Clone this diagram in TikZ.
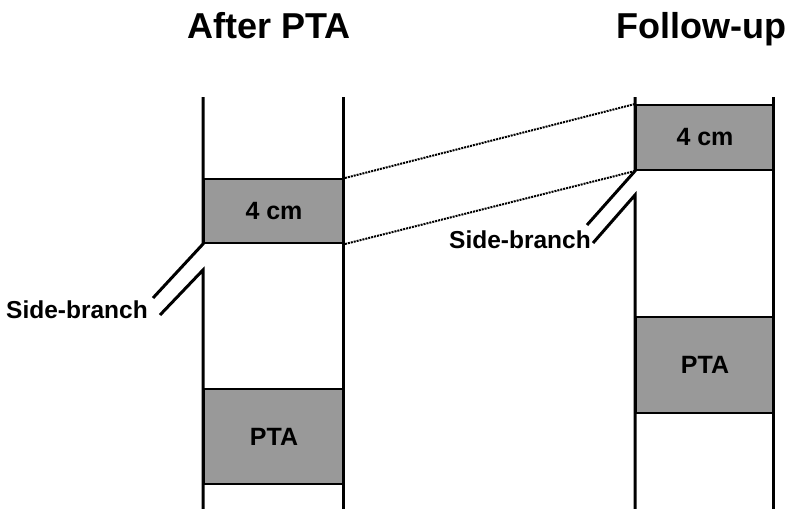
\documentclass[tikz,border=0pt]{standalone}
\usepackage{fontspec}
\setmainfont{Liberation Sans}
\begin{document}
\begin{tikzpicture}
            [
                x = 1pt, y = -1pt,
                wall/.style    = {line width=3pt},
                segment/.style = {draw, line width=2pt, fill=black!40,
                anchor=north west, inner sep=0pt,
                font=\fontsize{25}{25}\selectfont\bfseries},
                title/.style   = {anchor=base, font=\fontsize{36}{36}\selectfont\bfseries},
                branch/.style  = {anchor=base, font=\fontsize{24.5}{24.5}\selectfont\bfseries},
                link/.style    = {densely dotted, line width=2pt}
            ]
            \useasboundingbox (0,0) rectangle (793,509);
            \node [title] (after)  at (269,38) {After PTA};
            \node [title] (follow) at (701,38) {Follow-up};
            % after PTA
            \node [segment, minimum width=140pt, minimum height=64pt] (cmA) at (203,178) {4 cm};
            \node [segment, minimum width=140pt, minimum height=95pt] (ptaA) at (203,388) {PTA};
            \coordinate (topAl) at (203,97);
            \coordinate (topAr) at (343,97);
            \coordinate (gapA)  at (203,270);
            \coordinate (botAl) at (203,509);
            \coordinate (botAr) at (343,509);
            \draw [wall] (topAl) -- (cmA.south west) -- (153,298);
            \draw [wall] (160,315) -- (gapA) -- (botAl);
            \draw [wall] (topAr) -- (botAr);
            \node [branch] (sideA) at (77,318) {Side-branch};
            % follow-up
            \node [segment, minimum width=138pt, minimum height=65pt] (cmB) at (635,104) {4 cm};
            \node [segment, minimum width=138pt, minimum height=96pt] (ptaB) at (635,316) {PTA};
            \coordinate (topBl) at (635,97);
            \coordinate (topBr) at (773,97);
            \coordinate (gapB)  at (635,195);
            \coordinate (botBl) at (635,509);
            \coordinate (botBr) at (773,509);
            \draw [wall] (topBl) -- (cmB.south west) -- (587,225);
            \draw [wall] (593,243) -- (gapB) -- (botBl);
            \draw [wall] (topBr) -- (botBr);
            \node [branch] (sideB) at (520,248) {Side-branch};
            % the 4 cm segment in both
            \draw [link] (cmA.north east) -- (cmB.north west);
            \draw [link] (cmA.south east) -- (cmB.south west);
        \end{tikzpicture}
\end{document}
